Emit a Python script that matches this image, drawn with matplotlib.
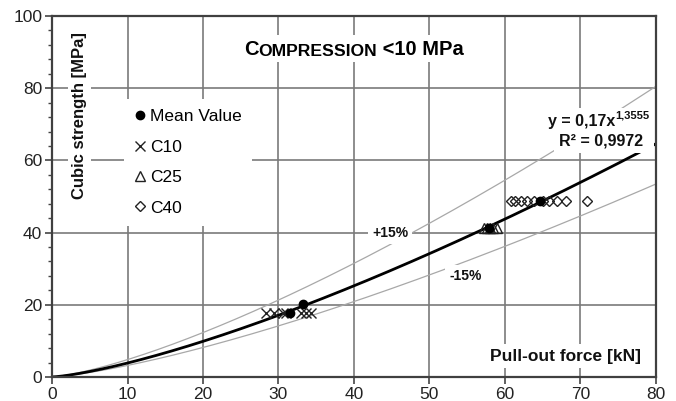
import numpy as np
import matplotlib
matplotlib.use("Agg")
import matplotlib.pyplot as plt
from matplotlib.patches import Rectangle

plt.rcParams['font.family'] = ['Liberation Sans', 'DejaVu Sans']

# trendline y = a * x^b
a_fit = 0.17
b_fit = 1.3555
band = 0.15

mean_x = [31.5, 33.2, 57.9, 64.6]
mean_y = [17.6, 20.3, 41.4, 48.8]

c10_x = [28.3, 29.4, 30.6, 31.0, 33.0, 33.6, 34.3]
c10_y = [17.8, 17.8, 17.8, 17.8, 17.8, 17.8, 17.8]

c25_x = [57.2, 57.7, 58.1, 58.5, 58.9]
c25_y = [41.3, 41.3, 41.3, 41.3, 41.3]

c40_x = [60.8, 61.4, 62.1, 63.0, 63.9, 65.0, 65.9, 66.9, 68.1, 70.9]
c40_y = [48.8, 48.8, 48.8, 48.8, 48.8, 48.8, 48.8, 48.8, 48.8, 48.8]

fig = plt.figure(figsize=(6.76, 4.01), dpi=100)
ax = fig.add_axes([0.077, 0.060, 0.893, 0.900])

xs = np.linspace(0, 80, 400)
ax.plot(xs, a_fit * (xs / (1 - band)) ** b_fit, color='#a8a8a8', lw=0.9, zorder=2)
ax.plot(xs, a_fit * (xs / (1 + band)) ** b_fit, color='#a8a8a8', lw=0.9, zorder=2)
ax.plot(xs, a_fit * xs ** b_fit, color='black', lw=2.0, zorder=2.5)

ax.plot(c10_x, c10_y, 'x', color='#222222', ms=7, mew=1.0, ls='none', label='C10', zorder=4)
ax.plot(c25_x, c25_y, '^', mfc='none', mec='#222222', ms=7, mew=1.0, ls='none', label='C25', zorder=4)
ax.plot(c40_x, c40_y, 'D', mfc='none', mec='#222222', ms=5.5, mew=1.0, ls='none', label='C40', zorder=4)
ax.plot(mean_x, mean_y, 'o', color='black', ms=6, ls='none', label='Mean Value', zorder=4.5)

ax.set_xlim(0, 80)
ax.set_ylim(0, 100)
ax.set_xticks(np.arange(0, 81, 10))
ax.set_yticks(np.arange(0, 101, 20))
ax.set_yticks(np.arange(0, 101, 4), minor=True)
ax.grid(True, which='major', color='#7a7a7a', lw=1.2)
ax.set_axisbelow(True)
ax.tick_params(which='major', direction='out', length=5, width=1.2, colors='#444444',
               labelsize=12.5, labelcolor='#222222', pad=2)
ax.tick_params(which='minor', direction='out', length=3, width=1.0, colors='#444444')
for s in ax.spines.values():
    s.set_color('#404040')
    s.set_linewidth(1.6)

wb = dict(facecolor='white', edgecolor='none', pad=3)

ax.text(0.046, 0.723, 'Cubic strength [MPa]', transform=ax.transAxes, rotation=90,
        ha='center', va='center', fontsize=12, weight='bold', color='#111111', bbox=wb, zorder=3)
ax.text(78.0, 5.8, 'Pull-out force [kN]', ha='right', va='center', fontsize=12.5,
        weight='bold', color='#111111', bbox=wb, zorder=3)

# white boxes behind the multi-part texts
ax.add_patch(Rectangle((0.311, 0.873), 0.395, 0.074, transform=ax.transAxes,
                       facecolor='white', edgecolor='none', zorder=2.8))
ax.add_patch(Rectangle((0.825, 0.629), 0.172, 0.116, transform=ax.transAxes,
                       facecolor='white', edgecolor='none', zorder=2.8))

# small-caps title
t1 = ax.text(0.318, 0.882, 'C', transform=ax.transAxes, ha='left', va='bottom',
             fontsize=14.5, weight='bold', zorder=3)
t2 = ax.annotate('OMPRESSION', xy=(1, 0), xycoords=t1, ha='left', va='bottom',
                 fontsize=12.6, weight='bold', zorder=3)
t3 = ax.annotate(' <10 MPa', xy=(1, 0), xycoords=t2, ha='left', va='bottom',
                 fontsize=14.5, weight='bold', zorder=3)

e1 = ax.text(74.6, 69.5, 'y = 0,17x', ha='right', va='baseline', fontsize=11.5,
             weight='bold', color='#111111', zorder=3)
ax.annotate('1,3555', xy=(1, 0.55), xycoords=e1, ha='left', va='bottom', fontsize=8,
            weight='bold', color='#111111', zorder=3)
ax.text(72.7, 64.0, 'R² = 0,9972', ha='center', va='baseline', fontsize=11.5,
        weight='bold', color='#111111', bbox=wb, zorder=3)

ax.text(44.8, 39.9, '+15%', ha='center', va='center', fontsize=10, weight='bold',
        color='#111111', bbox=wb, zorder=3)
ax.text(54.8, 28.0, '-15%', ha='center', va='center', fontsize=10, weight='bold',
        color='#111111', bbox=wb, zorder=3)

h, l = ax.get_legend_handles_labels()
order = [3, 0, 1, 2]
leg = ax.legend([h[i] for i in order], [l[i] for i in order], loc='upper left',
                bbox_to_anchor=(0.105, 0.795), fontsize=12.5, frameon=True,
                facecolor='white', edgecolor='none', framealpha=1, fancybox=False,
                handlelength=0.6, handletextpad=0.3, labelspacing=0.88, borderpad=0.6)
leg.set_zorder(5)

fig.savefig('out.png', dpi=100)
